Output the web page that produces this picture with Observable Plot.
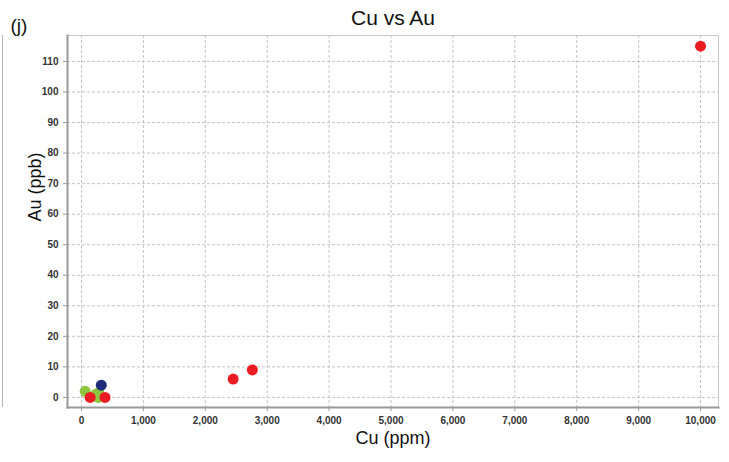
<!DOCTYPE html>
<html><head><meta charset="utf-8">
<script src="https://cdn.jsdelivr.net/npm/d3@7"></script>
<script src="https://cdn.jsdelivr.net/npm/@observablehq/plot@0.6"></script>
<style>
body{margin:0;background:#fff;font-family:"Liberation Sans",Arial,sans-serif;}
#wrap{position:relative;width:729px;height:462px;}
#frag{position:absolute;left:2px;top:35px;width:0;height:372px;border-left:1.5px solid #b5b5b5;}
</style></head>
<body><div id="wrap"><div id="frag"></div></div>
<script>
const redCu = [10000, 2450, 2760, 140, 380];
const redAu = [115, 6, 9, 0, 0];
const blueCu = [320];
const blueAu = [4];
const greenCu = [60, 230, 280, 270];
const greenAu = [2, 1, 1.6, 0];
const xTicks = d3.range(0, 10001, 1000);
const yTicks = d3.range(0, 111, 10);

const pts = [
  ...greenCu.map((x,i)=>({x, y: greenAu[i], c:"#8dc63f"})),
  ...blueCu.map((x,i)=>({x, y: blueAu[i], c:"#1f2b7b"})),
  ...redCu.map((x,i)=>({x, y: redAu[i], c:"#ec1c24"}))
];

const chart = Plot.plot({
  width: 729, height: 462,
  marginLeft: 67, marginRight: 11, marginTop: 35, marginBottom: 55,
  style: {fontFamily: '"Liberation Sans", Arial, sans-serif', fontSize: "10px", color:"#222", background:"transparent"},
  x: {domain: [-226, 10290], ticks: xTicks, tickFormat: d3.format(","), label: null, tickSize: 4, tickPadding: 6},
  y: {domain: [-3.3, 118.5], ticks: yTicks, label: null, tickSize: 4, tickPadding: 3},
  marks: [
    Plot.gridX(xTicks, {stroke: "#c4c4c4", strokeOpacity: 1, strokeDasharray: "3,2"}),
    Plot.gridY(yTicks, {stroke: "#c4c4c4", strokeOpacity: 1, strokeDasharray: "3,2"}),
    Plot.frame({stroke: "#c8c8c8"}),
    Plot.axisX({ticks: xTicks, tickFormat: d3.format(","), tickSize: 4, stroke:"#999", label: null, fontWeight: "bold", fill:"#333"}),
    Plot.axisY({ticks: yTicks, tickSize: 4, stroke:"#999", label: null, fontWeight: "bold", fill:"#333"}),
    Plot.frame({anchor: "left", stroke: "#999", strokeWidth: 2}),
    Plot.frame({anchor: "bottom", stroke: "#999", strokeWidth: 2}),
    Plot.dot(pts, {x: "x", y: "y", fill: "c", r: 5.5}),
    Plot.text(["Cu vs Au"], {frameAnchor: "top", dy: -25, fontSize: 21, fill: "#111"}),
    Plot.text(["(j)"], {frameAnchor: "top-left", dx: -57, dy: -17, fontSize: 19, fill: "#111"}),
    Plot.text(["Cu (ppm)"], {frameAnchor: "bottom", dy: 36, fontSize: 18, fill: "#111"}),
    Plot.text(["Au (ppb)"], {frameAnchor: "left", dx: -32, rotate: -90, fontSize: 18, fill: "#111"})
  ]
});
document.getElementById("wrap").appendChild(chart);
</script></body></html>
